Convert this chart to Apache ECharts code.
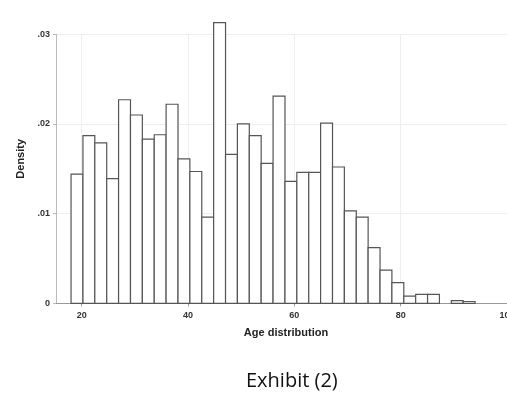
<!DOCTYPE html>
<html>
<head>
<meta charset="utf-8">
<script src="https://cdn.jsdelivr.net/npm/echarts@6/dist/echarts.min.js"></script>
<style>
html,body{margin:0;padding:0;background:#fff;}
#chart{width:507px;height:394px;}
</style>
</head>
<body>
<div id="chart"></div>
<script>
// Histogram bin edges (age, years)
var binEdges = [18, 20.24, 22.47, 24.71, 26.94, 29.18, 31.41, 33.65, 35.88, 38.12,
  40.35, 42.59, 44.82, 47.06, 49.29, 51.53, 53.76, 56, 58.24, 60.47,
  62.71, 64.94, 67.18, 69.41, 71.65, 73.88, 76.12, 78.35, 80.59, 82.82,
  85.06, 87.29, 89.53, 91.76, 94];
// Density per bin
var densities = [0.0144, 0.0187, 0.0179, 0.0139, 0.0227, 0.0210, 0.0183, 0.0188, 0.0222, 0.0161,
  0.0147, 0.0096, 0.0313, 0.0166, 0.0200, 0.0187, 0.0156, 0.0231, 0.0136, 0.0146,
  0.0146, 0.0201, 0.0152, 0.0103, 0.0096, 0.0062, 0.0037, 0.0023, 0.0008, 0.0010,
  0.0010, 0.0000, 0.0003, 0.0002];
var xTicks = [20, 40, 60, 80, 100];
var yTickLabels = ['0', '.01', '.02', '.03'];
var xTitle = 'Age distribution';
var yTitle = 'Density';
var caption = 'Exhibit (2)';

var data = densities.map(function (d, i) { return [binEdges[i], binEdges[i + 1], d]; });

var chart = echarts.init(document.getElementById('chart'), null, {renderer: 'canvas'});
var labelFont = {fontFamily: 'Liberation Sans', fontWeight: 'bold', fontSize: 9, color: '#333'};
chart.setOption({
  animation: false,
  backgroundColor: '#fff',
  title: {
    text: caption,
    left: 241, top: 366,
    textStyle: {fontFamily: 'Open Sans', fontWeight: 'normal', fontSize: 20, color: '#111'}
  },
  grid: {left: 56, right: 0, top: 34.3, bottom: 90.7, containLabel: false, outerBoundsMode: 'none'},
  xAxis: {
    type: 'value', min: 15.17, max: 100,
    name: xTitle, nameLocation: 'middle', nameGap: 24,
    nameTextStyle: {fontFamily: 'Liberation Sans', fontWeight: 'bold', fontSize: 11, color: '#222', padding: [0, 0, 0, 9]},
    axisLine: {show: true, lineStyle: {color: '#999', width: 1}},
    axisTick: {show: true, customValues: xTicks, length: 3, lineStyle: {color: '#999'}},
    axisLabel: Object.assign({customValues: xTicks, margin: 8}, labelFont),
    splitLine: {show: false}
  },
  yAxis: {
    type: 'value', min: 0, max: 0.03, interval: 0.01,
    name: yTitle, nameLocation: 'middle', nameGap: 30, nameRotate: 90,
    nameTextStyle: {fontFamily: 'Liberation Sans', fontWeight: 'bold', fontSize: 11, color: '#222', padding: [0, 0, 0, 20]},
    axisLine: {show: true, lineStyle: {color: '#bbb', width: 1}},
    axisTick: {show: true, length: 3, lineStyle: {color: '#bbb'}},
    axisLabel: Object.assign({margin: 6, formatter: function (v, i) { return yTickLabels[i]; }}, labelFont),
    splitLine: {show: true, lineStyle: {color: '#eeeeee', width: 1}}
  },
  series: [{
    type: 'custom',
    clip: false,
    data: data,
    renderItem: function (params, api) {
      var p0 = api.coord([api.value(0), api.value(2)]);
      var p1 = api.coord([api.value(1), 0]);
      if (api.value(2) <= 0) return null;
      return {
        type: 'rect',
        shape: {x: p0[0], y: p0[1], width: p1[0] - p0[0], height: p1[1] - p0[1]},
        style: {fill: '#fff', stroke: '#555', lineWidth: 1.2}
      };
    },
    markLine: {
      silent: true, symbol: 'none', label: {show: false},
      lineStyle: {color: '#eeeeee', width: 1, type: 'solid'},
      z: 0,
      data: [{xAxis: 20}, {xAxis: 40}, {xAxis: 60}, {xAxis: 80}]
    },
    z: 2
  }]
});
</script>
</body>
</html>
